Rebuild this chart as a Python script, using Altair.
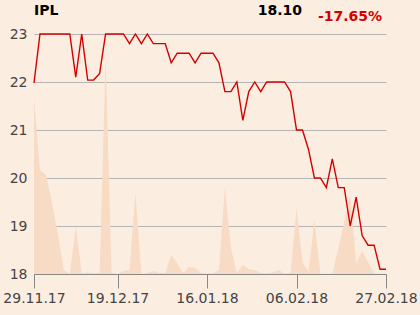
import altair as alt
import pandas as pd

# closing prices per trading day (index 0 = 29.11.17)
price = [21.98, 23.0, 23.0, 23.0, 23.0, 23.0, 23.0, 22.1, 23.0, 22.04,
         22.04, 22.18, 23.0, 23.0, 23.0, 23.0, 22.8, 23.0, 22.8, 23.0,
         22.8, 22.8, 22.8, 22.4, 22.6, 22.6, 22.6, 22.4, 22.6, 22.6,
         22.6, 22.4, 21.8, 21.8, 22.0, 21.2, 21.8, 22.0, 21.8, 22.0,
         22.0, 22.0, 22.0, 21.8, 21.0, 21.0, 20.6, 20.0, 20.0, 19.8,
         20.4, 19.8, 19.8, 19.0, 19.6, 18.8, 18.6, 18.6, 18.1, 18.1]

# traded volume (arbitrary units)
volume = [176, 104, 99, 72, 40, 4, 0, 47, 1, 1.5,
          1, 1, 217, 1, 0, 3, 4, 81, 0, 1,
          3, 1, 1, 19, 11, 1, 7, 6, 1, 0.5,
          1, 4, 87, 26, 1, 9, 5, 4, 1, 1,
          1.5, 4, 0.5, 1, 66, 12, 2, 54, 0.5, 0.5,
          0.5, 25, 52, 79, 11, 23, 12, 0.5, 0.5, 0.5]

tick_idx = [0, 14, 29, 44, 59]
tick_labels = ["29.11.17", "19.12.17", "16.01.18", "06.02.18", "27.02.18"]

name = "IPL"
last_text = "18.10"
change_text = "-17.65%"

df = pd.DataFrame({"i": list(range(len(price))), "price": price, "volume": volume})

label_expr = " : ".join(
    [f"datum.value == {v} ? '{t}'" for v, t in zip(tick_idx, tick_labels)]
) + " : ''"

FONT = "DejaVu Sans"
BG = "#fcede1"
RED = "#d40000"

x = alt.X("i:Q", scale=alt.Scale(domain=[0, 59], nice=False, zero=False),
          axis=alt.Axis(values=tick_idx, labelExpr=label_expr, title=None,
                        grid=False, domainColor="#888888", tickColor="#888888",
                        tickSize=14, labelFontSize=14, labelColor="#444444",
                        labelPadding=3, labelFont=FONT, labelFlush=False,
                        labelOverlap=False))

area = alt.Chart(df).mark_area(color="#f8dbc5", opacity=1, interpolate="linear").encode(
    x=x,
    y=alt.Y("volume:Q", scale=alt.Scale(domain=[0, 240], nice=False), axis=None),
)

line = alt.Chart(df).mark_line(color=RED, strokeWidth=1.4).encode(
    x=x,
    y=alt.Y("price:Q", scale=alt.Scale(domain=[18, 23], nice=False, zero=False),
            axis=alt.Axis(values=[18, 19, 20, 21, 22, 23], title=None, domain=False,
                          ticks=False, grid=True, gridColor="#b5b5b5",
                          labelFontSize=14, labelColor="#444444", labelPadding=7,
                          labelFont=FONT)),
)

def label(text, xpos, ypos, color):
    return alt.Chart(pd.DataFrame({"t": [text]})).mark_text(
        font=FONT, fontSize=14, fontWeight="bold", color=color,
        align="right" if xpos > 0 else "left", baseline="alphabetic",
    ).encode(text="t:N", x=alt.value(xpos), y=alt.value(ypos))

t1 = label(name, 0, -19, "#000000")
t2 = label(last_text, 268, -19, "#000000")
t3 = label(change_text, 348, -13, RED)

chart = alt.layer(area, line, t1, t2, t3).resolve_scale(y="independent").properties(
    width=352, height=240,
    autosize=alt.AutoSizeParams(type="none"),
    padding={"left": 34, "top": 34, "right": 34, "bottom": 41},
    background=BG,
).configure_view(stroke=None)

chart.save("out.html", embed_options={"renderer": "svg", "actions": False})
